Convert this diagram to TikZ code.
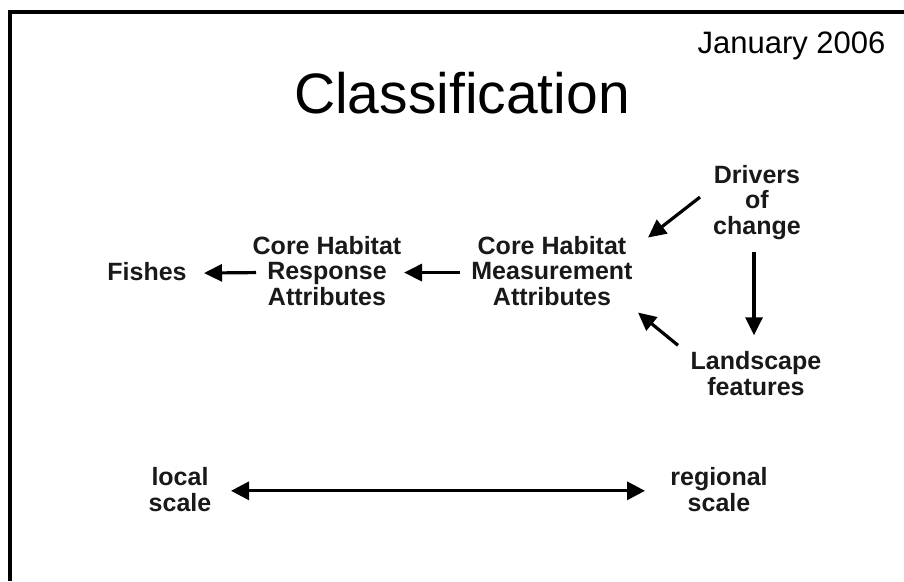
\documentclass[tikz,border=0pt]{standalone}
\usepackage{fontspec}
\setmainfont{Liberation Sans}
\usetikzlibrary{arrows.meta}
\begin{document}
\begin{tikzpicture}[x=1pt,y=-1pt,
  lbl/.style={font=\bfseries\fontsize{25}{25.5}\selectfont, align=center, inner sep=0pt, text=black!90},
  arr/.style={line width=3.2pt, -{Triangle[length=18pt,width=17pt]}},
  dblarr/.style={line width=3.2pt, {Triangle[length=18pt,width=18pt]}-{Triangle[length=18pt,width=18pt]}}]
\useasboundingbox (0,0) rectangle (904,581);
\fill[white] (0,0) rectangle (904,581);
% frame
\draw[line width=4pt] (7.5,12) -- (904,12);
\draw[line width=4.5pt] (9.75,10) -- (9.75,581);
% titles
\node[anchor=base, inner sep=0pt, font=\fontsize{57}{60}\selectfont] (title) at (462,113) {Classification};
\node[anchor=base, inner sep=0pt, font=\fontsize{31}{34}\selectfont] (date) at (791.5,53) {January 2006};
% labels (base = baseline of last line)
\node[lbl, anchor=base] (fish) at (147,280) {Fishes};
\node[lbl, anchor=base] (resp) at (327,305) {Core Habitat\\Response\\Attributes};
\node[lbl, anchor=base] (meas) at (552,305) {Core Habitat\\Measurement\\Attributes};
\node[lbl, anchor=base] (drv) at (757,234) {Drivers\\of\\change};
\node[lbl, anchor=base] (land) at (756,395) {Landscape\\features};
\node[lbl, anchor=base] (loc) at (180,511) {local\\scale};
\node[lbl, anchor=base] (reg) at (719,511) {regional\\scale};
% connectors
\draw[arr] ([shift={(-71,2)}]resp.center) -- ([shift={(57,2)}]fish.center);
\draw[arr] ([shift={(-92,2)}]meas.center) -- ([shift={(77,2)}]resp.center);
\draw[arr] ([shift={(-57,-5)}]drv.center) -- ([shift={(96,-33)}]meas.center);
\draw[arr] ([shift={(-3,50)}]drv.center) -- ([shift={(-2,-38)}]land.center);
\draw[arr] ([shift={(-78,-28)}]land.center) -- ([shift={(86,42)}]meas.center);
\draw[dblarr] ([shift={(51,1.5)}]loc.center) -- ([shift={(-74,1.5)}]reg.center);
\end{tikzpicture}
\end{document}
